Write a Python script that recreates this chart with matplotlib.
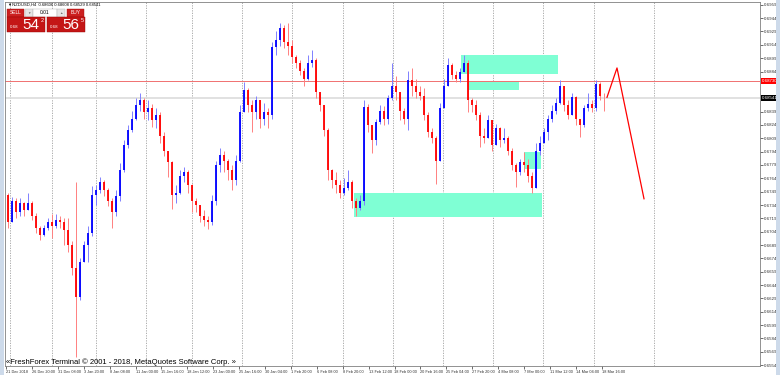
import numpy as np
import matplotlib.pyplot as plt
from matplotlib.patches import Rectangle
from matplotlib.transforms import blended_transform_factory

plt.rcParams['font.family'] = ['Liberation Sans', 'DejaVu Sans']

# NZDUSD H4 (one candle per ~4 px)
header = "\u25bcNZDUSD,H4  0.68606 0.68608 0.68529 0.68541"
first_open = 0.6745
closes = [0.6715, 0.6739, 0.6726, 0.6736, 0.6728, 0.6736, 0.6722, 0.6708, 0.6700, 0.6708,
          0.6715, 0.6710, 0.6717, 0.6715, 0.6706, 0.6689, 0.6663, 0.6631, 0.6670, 0.6689,
          0.6703, 0.6745, 0.6751, 0.6760, 0.6751, 0.6739, 0.6726, 0.6744, 0.6773, 0.6801,
          0.6818, 0.6831, 0.6846, 0.6852, 0.6838, 0.6843, 0.6829, 0.6835, 0.6812, 0.6795,
          0.6782, 0.6745, 0.6748, 0.6767, 0.6771, 0.6756, 0.6739, 0.6734, 0.6722, 0.6717,
          0.6715, 0.6739, 0.6779, 0.6790, 0.6784, 0.6773, 0.6762, 0.6784, 0.6838, 0.6863,
          0.6846, 0.6838, 0.6852, 0.6831, 0.6838, 0.6835, 0.6911, 0.6919, 0.6933, 0.6917,
          0.6913, 0.6900, 0.6894, 0.6885, 0.6876, 0.6894, 0.6897, 0.6861, 0.6846, 0.6818,
          0.6773, 0.6762, 0.6756, 0.6748, 0.6753, 0.6760, 0.6739, 0.6731, 0.6739, 0.6844,
          0.6824, 0.6807, 0.6827, 0.6840, 0.6831, 0.6854, 0.6868, 0.6861, 0.6840, 0.6831,
          0.6874, 0.6868, 0.6861, 0.6857, 0.6835, 0.6816, 0.6809, 0.6784, 0.6843, 0.6868,
          0.6891, 0.6880, 0.6876, 0.6883, 0.6894, 0.6852, 0.6846, 0.6835, 0.6812, 0.6809,
          0.6829, 0.6801, 0.6820, 0.6807, 0.6809, 0.6795, 0.6779, 0.6771, 0.6782, 0.6779,
          0.6767, 0.6753, 0.6795, 0.6804, 0.6816, 0.6831, 0.6840, 0.6849, 0.6868, 0.6846,
          0.6835, 0.6855, 0.6831, 0.6824, 0.6843, 0.6847, 0.6843, 0.6870, 0.6857, 0.6856]
highs = [0.6747, 0.6743, 0.6742, 0.6742, 0.6737, 0.6748, 0.6739, 0.6725, 0.6710, 0.6711,
         0.6719, 0.6724, 0.6724, 0.6722, 0.6719, 0.6719, 0.6694, 0.6760, 0.6674, 0.6694,
         0.6710, 0.6755, 0.6757, 0.6765, 0.6762, 0.6753, 0.6742, 0.6751, 0.6781, 0.6807,
         0.6824, 0.6840, 0.6854, 0.6860, 0.6854, 0.6852, 0.6847, 0.6843, 0.6838, 0.6816,
         0.6795, 0.6784, 0.6756, 0.6773, 0.6777, 0.6773, 0.6758, 0.6742, 0.6734, 0.6728,
         0.6722, 0.6745, 0.6784, 0.6798, 0.6795, 0.6786, 0.6779, 0.6790, 0.6846, 0.6872,
         0.6865, 0.6852, 0.6857, 0.6846, 0.6849, 0.6843, 0.6917, 0.6930, 0.6939, 0.6936,
         0.6939, 0.6919, 0.6902, 0.6897, 0.6888, 0.6902, 0.6908, 0.6899, 0.6861, 0.6846,
         0.6820, 0.6775, 0.6771, 0.6762, 0.6764, 0.6773, 0.6762, 0.6742, 0.6745, 0.6852,
         0.6848, 0.6820, 0.6831, 0.6846, 0.6845, 0.6858, 0.6894, 0.6879, 0.6857, 0.6843,
         0.6885, 0.6888, 0.6876, 0.6868, 0.6865, 0.6838, 0.6820, 0.6812, 0.6849, 0.6876,
         0.6899, 0.6894, 0.6885, 0.6888, 0.6902, 0.6897, 0.6854, 0.6852, 0.6838, 0.6821,
         0.6835, 0.6829, 0.6825, 0.6822, 0.6821, 0.6811, 0.6798, 0.6781, 0.6786, 0.6793,
         0.6786, 0.6771, 0.6804, 0.6812, 0.6820, 0.6835, 0.6846, 0.6854, 0.6874, 0.6868,
         0.6852, 0.6860, 0.6856, 0.6831, 0.6846, 0.6860, 0.6852, 0.6874, 0.6872, 0.6860]
lows = [0.6708, 0.6715, 0.6719, 0.6722, 0.6722, 0.6728, 0.6717, 0.6703, 0.6695, 0.6699,
        0.6706, 0.6697, 0.6708, 0.6708, 0.6689, 0.6681, 0.6655, 0.6563, 0.6627, 0.6670,
        0.6670, 0.6699, 0.6734, 0.6748, 0.6744, 0.6733, 0.6708, 0.6722, 0.6739, 0.6771,
        0.6798, 0.6816, 0.6829, 0.6840, 0.6831, 0.6829, 0.6822, 0.6820, 0.6804, 0.6789,
        0.6765, 0.6730, 0.6736, 0.6746, 0.6760, 0.6748, 0.6726, 0.6726, 0.6715, 0.6710,
        0.6707, 0.6711, 0.6734, 0.6771, 0.6771, 0.6762, 0.6751, 0.6756, 0.6782, 0.6838,
        0.6838, 0.6816, 0.6831, 0.6820, 0.6824, 0.6820, 0.6831, 0.6902, 0.6913, 0.6910,
        0.6902, 0.6894, 0.6888, 0.6880, 0.6868, 0.6874, 0.6889, 0.6854, 0.6840, 0.6812,
        0.6762, 0.6753, 0.6748, 0.6742, 0.6745, 0.6751, 0.6731, 0.6722, 0.6728, 0.6734,
        0.6816, 0.6792, 0.6801, 0.6825, 0.6824, 0.6825, 0.6852, 0.6852, 0.6829, 0.6825,
        0.6818, 0.6857, 0.6854, 0.6852, 0.6829, 0.6810, 0.6804, 0.6758, 0.6784, 0.6843,
        0.6868, 0.6876, 0.6872, 0.6872, 0.6883, 0.6838, 0.6838, 0.6829, 0.6799, 0.6804,
        0.6809, 0.6795, 0.6801, 0.6799, 0.6804, 0.6790, 0.6773, 0.6754, 0.6768, 0.6771,
        0.6760, 0.6747, 0.6753, 0.6790, 0.6804, 0.6807, 0.6827, 0.6836, 0.6847, 0.6840,
        0.6831, 0.6835, 0.6824, 0.6810, 0.6822, 0.6840, 0.6838, 0.6840, 0.6852, 0.6840]

# supply / demand zones (bar index from, to, price low, high)
zone_x0 = [86.5, 113.25, 115.25, 129.0]
zone_x1 = [133.5, 137.5, 127.75, 133.25]
zone_lo = [0.6721, 0.6881, 0.6863, 0.6775]
zone_hi = [0.6747, 0.6903, 0.6873, 0.6793]

level_price = 0.68730
bid_price = 0.68541
forecast_x = [149.75, 152.25, 159.0]
forecast_y = [0.6855, 0.6888, 0.6741]

date_labels = ["21 Dec 2018", "26 Dec 20:00", "31 Dec 08:00", "3 Jan 20:00", "8 Jan 08:00",
               "11 Jan 00:00", "15 Jan 16:00", "18 Jan 12:00", "23 Jan 00:00", "25 Jan 16:00",
               "30 Jan 04:00", "1 Feb 20:00", "6 Feb 08:00", "8 Feb 20:00", "13 Feb 12:00",
               "18 Feb 00:00", "20 Feb 16:00", "25 Feb 04:00", "27 Feb 20:00", "4 Mar 08:00",
               "7 Mar 00:00", "11 Mar 12:00", "14 Mar 04:00", "18 Mar 16:00"]
grid_bars = [0.5, 11, 22, 34.5, 46, 58.5, 71, 83.75, 96.25, 108.75, 121.25, 133.75, 146.5, 161.5]

closes = np.array(closes)
opens = np.r_[first_open, closes[:-1]]
hi = np.maximum.reduce([np.array(highs), opens, closes])
lo = np.minimum.reduce([np.array(lows), opens, closes])
x = np.arange(len(closes))
up = closes >= opens

fig = plt.figure(figsize=(7.8, 3.75), dpi=100, facecolor='white')
ax = fig.add_axes([5 / 780, 9 / 375, 755 / 780, 364 / 375])
ax.set_xlim(-0.75, 188)
ax.set_ylim(0.65531, 0.69621)

for gx in grid_bars:
    ax.axvline(gx, color='#a0a0a0', lw=0.6, ls=(0, (1.5, 1.5)), zorder=0)

for a, b, l, h in zip(zone_x0, zone_x1, zone_lo, zone_hi):
    ax.add_patch(Rectangle((a, l), b - a, h - l, fc='#7fffd4', ec='none', zorder=1))

ax.axhline(bid_price, color='#dcdcdc', lw=1.2, zorder=1)
ax.axhline(level_price, color='#f07070', lw=0.7, zorder=1)

wick_col = np.where(up, '#8080ff', '#ff8080')
body_col = np.where(up, '#0000ff', '#ff0000')
ax.vlines(x, lo, hi, colors=wick_col, lw=0.7, zorder=2)
body_lo = np.minimum(opens, closes)
body_hi = np.maximum(np.maximum(opens, closes), body_lo + 0.00008)
ax.vlines(x, body_lo, body_hi, colors=body_col, lw=1.3, zorder=3)

ax.plot(forecast_x, forecast_y, color='#ff0000', lw=0.9, zorder=3)

# axes look like MT4
for s in ax.spines.values():
    s.set_color('#808080')
    s.set_linewidth(0.6)
ax.yaxis.tick_right()
yt = np.round(0.69590 - 0.0015 * np.arange(28), 5)
yt = [v for v in yt if abs(v - level_price) > 0.0006 and abs(v - bid_price) > 0.0006]
ax.set_yticks(yt)
ax.set_yticklabels([f"{v:.5f}" for v in yt])
ax.tick_params(axis='y', length=2, width=0.5, pad=1, labelsize=3.2, colors='#303030')
xt = -0.5 + 6.475 * np.arange(len(date_labels))
ax.set_xticks(xt)
ax.set_xticklabels(date_labels, ha='left')
ax.tick_params(axis='x', length=2, width=0.5, pad=0.6, labelsize=2.8, colors='#303030')

tr = blended_transform_factory(ax.transAxes, ax.transData)
ax.text(1.003, level_price, f"{level_price:.5f}", transform=tr, fontsize=3.2, color='white',
        va='center', ha='left', clip_on=False,
        bbox=dict(boxstyle='square,pad=0.2', fc='#ff0000', ec='none'))
ax.text(1.003, bid_price, f"{bid_price:.5f}", transform=tr, fontsize=3.2, color='white',
        va='center', ha='left', clip_on=False,
        bbox=dict(boxstyle='square,pad=0.2', fc='#000000', ec='none'))

# overlay in pixel units for terminal decorations
ov = fig.add_axes([0, 0, 1, 1])
ov.set_xlim(0, 780)
ov.set_ylim(375, 0)
ov.axis('off')
ov.add_patch(Rectangle((0, 0), 4, 375, fc='#cddaea', ec='none'))
ov.add_patch(Rectangle((776, 0), 4, 375, fc='#cddaea', ec='none'))

ov.text(8, 5, header, fontsize=3, va='center', ha='left', color='black')
red = '#cc1f1f'
ov.add_patch(Rectangle((7, 9), 17, 8, fc=red, ec='#a01010', lw=0.3))
ov.text(15.5, 13, "SELL", fontsize=3.5, color='white', ha='center', va='center')
ov.add_patch(Rectangle((25, 9), 8, 8, fc='#e6e6e6', ec='#b0b0b0', lw=0.3))
ov.text(29, 13, "\u25bc", fontsize=2.5, color='#707070', ha='center', va='center')
ov.add_patch(Rectangle((33, 9), 24, 8, fc='white', ec='#b0b0b0', lw=0.3))
ov.text(45, 13, "0.01", fontsize=3.5, color='black', ha='center', va='center')
ov.add_patch(Rectangle((57, 9), 8, 8, fc='#e6e6e6', ec='#b0b0b0', lw=0.3))
ov.text(61, 13, "\u25b2", fontsize=2.5, color='#707070', ha='center', va='center')
ov.add_patch(Rectangle((67, 9), 17, 8, fc=red, ec='#a01010', lw=0.3))
ov.text(75.5, 13, "BUY", fontsize=3.5, color='white', ha='center', va='center')
for bx, big, sup in [(7, "54", "2"), (47, "56", "5")]:
    ov.add_patch(Rectangle((bx, 17), 38, 15, fc='#c41616', ec='#900', lw=0.3))
    ov.text(bx + 3, 27.5, "0.68", fontsize=3.2, color='white', ha='left', va='center')
    ov.text(bx + 15.5, 25, big, fontsize=11, color='white', ha='left', va='center')
    ov.text(bx + 33.5, 20.5, sup, fontsize=4, color='white', ha='left', va='center')

ov.text(6, 362, "\u00abFreshForex Terminal \u00a9 2001 - 2018, MetaQuotes Software Corp. \u00bb",
        fontsize=5.5, color='black', ha='left', va='center')

fig.savefig('out.png', dpi=100, facecolor='white')
